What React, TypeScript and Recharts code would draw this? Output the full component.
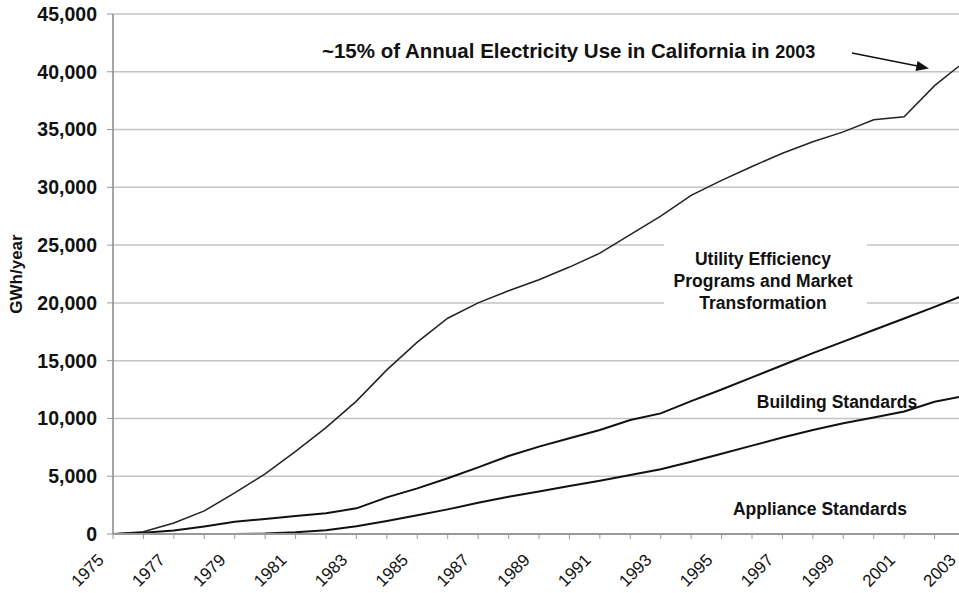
import React from "react";
import { LineChart, Line, XAxis, YAxis, CartesianGrid } from "recharts";

const years = [
  1975, 1976, 1977, 1978, 1979, 1980, 1981, 1982, 1983, 1984, 1985, 1986, 1987,
  1988, 1989, 1990, 1991, 1992, 1993, 1994, 1995, 1996, 1997, 1998, 1999, 2000,
  2001, 2002, 2003,
];

// cumulative GWh/year
const applianceStd = [
  0, 0, 0, 0, 0, 40, 150, 330, 680, 1130, 1620, 2130, 2700, 3230, 3680, 4150,
  4600, 5100, 5600, 6250, 6950, 7650, 8350, 9000, 9580, 10080, 10600, 11450,
  11950,
];

const buildingStd = [
  0, 100, 300, 650, 1050, 1300, 1550, 1800, 2220, 3170, 3950, 4820, 5770, 6750,
  7560, 8280, 9000, 9870, 10440, 11500, 12500, 13550, 14600, 15650, 16650,
  17650, 18650, 19650, 20700,
];

const utilityPrograms = [
  0, 200, 950, 2000, 3550, 5200, 7150, 9200, 11500, 14200, 16600, 18670, 20000,
  21050, 22000, 23100, 24300, 25900, 27500, 29300, 30600, 31800, 32950, 33950,
  34800, 35850, 36100, 38800, 40900,
];

const yTicks = [0, 5000, 10000, 15000, 20000, 25000, 30000, 35000, 40000, 45000];

const data = years.map((year, i) => ({
  year,
  appliance: applianceStd[i],
  building: buildingStd[i],
  utility: utilityPrograms[i],
}));

const FONT = "'Liberation Sans', Arial, sans-serif";

const YearTick = (props: any) => {
  const { x, y, payload } = props;
  if (payload.value % 2 === 0) return <g />;
  return (
    <g transform={`translate(${x - 8},${y + 20}) rotate(-45)`}>
      <text textAnchor="end" fontFamily={FONT} fontSize={17} fill="#111">
        {payload.value}
      </text>
    </g>
  );
};

export default function App() {
  return (
    <div
      style={{
        position: "fixed",
        left: 0,
        top: 0,
        width: 959,
        height: 593,
        overflow: "hidden",
        background: "#fff",
      }}
    >
      <div style={{ position: "relative", width: 970, height: 593 }}>
        <LineChart
          width={970}
          height={593}
          data={data}
          margin={{ top: 14, right: 5, left: 0, bottom: 0 }}
        >
          <CartesianGrid vertical={false} stroke="#c4c4c4" strokeWidth={1.5} />
          <XAxis
            dataKey="year"
            type="number"
            domain={[1975, 2003]}
            ticks={years}
            interval={0}
            height={59}
            tick={<YearTick />}
            tickSize={5}
            tickLine={{ stroke: "#999" }}
            axisLine={{ stroke: "#999", strokeWidth: 2 }}
          />
          <YAxis
            domain={[0, 45000]}
            ticks={yTicks}
            width={113}
            tickSize={6}
            tickMargin={10}
            tickFormatter={(v: number) => v.toLocaleString("en-US")}
            tick={{ fontFamily: FONT, fontSize: 19.5, fontWeight: "bold", fill: "#111" }}
            tickLine={{ stroke: "#999" }}
            axisLine={{ stroke: "#888", strokeWidth: 1.5 }}
          />
          <Line
            dataKey="utility"
            type="linear"
            stroke="#222"
            strokeWidth={1.5}
            dot={false}
            isAnimationActive={false}
          />
          <Line
            dataKey="building"
            type="linear"
            stroke="#111"
            strokeWidth={2}
            dot={false}
            isAnimationActive={false}
          />
          <Line
            dataKey="appliance"
            type="linear"
            stroke="#111"
            strokeWidth={2}
            dot={false}
            isAnimationActive={false}
          />
        </LineChart>

        {/* annotations */}
        <svg
          width={970}
          height={593}
          style={{ position: "absolute", left: 0, top: 0, pointerEvents: "none" }}
          fontFamily={FONT}
          fontWeight="bold"
          fill="#111"
        >
          <text
            transform="translate(16,274) rotate(-90)"
            textAnchor="middle"
            dominantBaseline="central"
            fontSize={17}
          >
            GWh/year
          </text>

          <text x={322} y={58} fontSize={20.5}>
            ~15% of Annual Electricity Use in California in{" "}
            <tspan fontSize={18}>2003</tspan>
          </text>
          <line x1={852} y1={53} x2={920} y2={66.5} stroke="#111" strokeWidth={1.3} />
          <polygon points="929,68.5 917.5,61 915.5,71" fill="#111" />

          <rect x={664} y={244} width={203} height={72} fill="#fff" />
          <text textAnchor="middle" fontSize={17.5}>
            <tspan x={763} y={265}>Utility Efficiency</tspan>
            <tspan x={763} y={287}>Programs and Market</tspan>
            <tspan x={763} y={309}>Transformation</tspan>
          </text>

          <text x={837} y={408} textAnchor="middle" fontSize={17.5}>
            Building Standards
          </text>
          <text x={820} y={515} textAnchor="middle" fontSize={17.5}>
            Appliance Standards
          </text>
        </svg>
      </div>
    </div>
  );
}
